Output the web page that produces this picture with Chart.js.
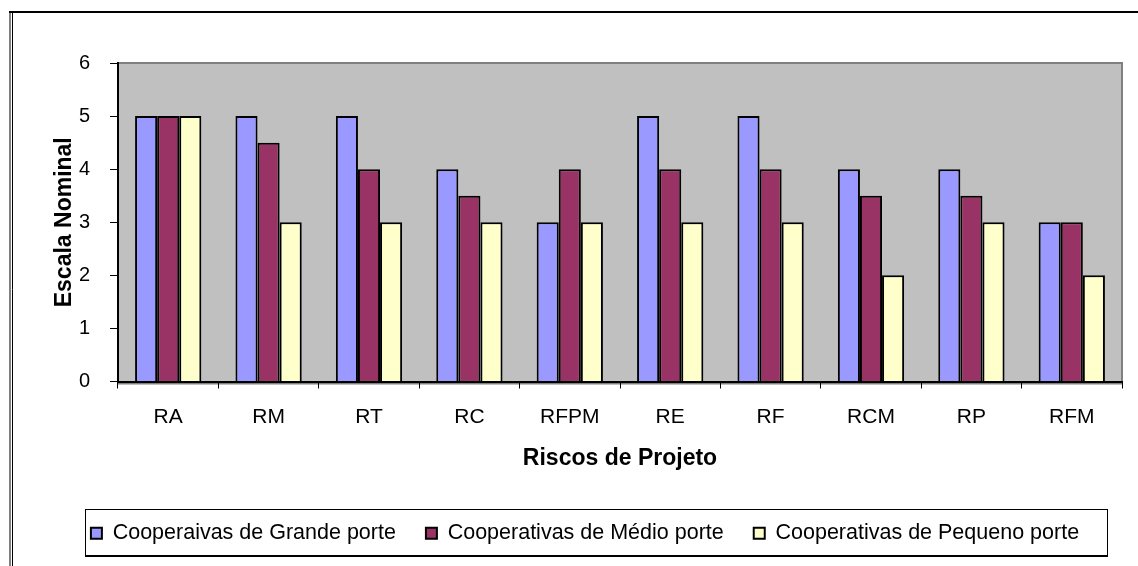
<!DOCTYPE html>
<html lang="pt">
<head>
    <meta charset="UTF-8">
    <title>Riscos de Projeto</title>
    <script src="https://cdn.jsdelivr.net/npm/chart.js@4.4.1/dist/chart.umd.min.js"></script>
    <style>
        body {
            margin: 0;
            background: #fff;
        }
        .wrap {
            position: relative;
            width: 1138px;
            height: 566px;
        }
    </style>
</head>
<body>
    <div class="wrap">
        <canvas id="chart"></canvas>
    </div>

    <script>
        // categories and values
        var riscos = ['RA', 'RM', 'RT', 'RC', 'RFPM', 'RE', 'RF', 'RCM', 'RP', 'RFM'];
        var grandePorte = [5, 5, 5, 4, 3, 5, 5, 4, 4, 3];
        var medioPorte = [5, 4.5, 4, 3.5, 4, 4, 4, 3.5, 3.5, 3];
        var pequenoPorte = [5, 3, 3, 3, 3, 3, 3, 2, 3, 2];
        var yTicks = [0, 1, 2, 3, 4, 5, 6];

        var FONT = "'Liberation Sans', Arial, sans-serif";
        Chart.defaults.color = '#000';
        Chart.defaults.font.family = FONT;

        // gray plot background, outer frame and legend box
        var decor = {
            id: 'decor',
            beforeDraw: function (chart) {
                var ctx = chart.ctx, a = chart.chartArea;
                ctx.save();
                ctx.fillStyle = '#fff';
                ctx.fillRect(0, 0, chart.width, chart.height);
                // outer frame (top + double left line)
                ctx.strokeStyle = '#000';
                ctx.lineWidth = 2;
                ctx.beginPath();
                ctx.moveTo(9, 12);
                ctx.lineTo(chart.width, 12);
                ctx.stroke();
                ctx.lineWidth = 1;
                ctx.beginPath();
                ctx.moveTo(10, 12);
                ctx.lineTo(10, chart.height);
                ctx.moveTo(12.5, 13);
                ctx.lineTo(12.5, chart.height);
                ctx.stroke();
                // plot area
                ctx.fillStyle = '#c0c0c0';
                ctx.fillRect(a.left, a.top, a.right - a.left, a.bottom - a.top);
                ctx.strokeStyle = '#808080';
                ctx.lineWidth = 2;
                ctx.beginPath();
                ctx.moveTo(a.left, a.top);
                ctx.lineTo(a.right, a.top);
                ctx.lineTo(a.right, a.bottom + 2);
                ctx.lineTo(a.left, a.bottom + 2);
                ctx.stroke();
                ctx.restore();
            },
            afterDraw: function (chart) {
                var hb = chart.legend.legendHitBoxes;
                if (!hb || !hb.length) return;
                var ctx = chart.ctx;
                var last = hb[hb.length - 1];
                var cy = hb[0].top + hb[0].height / 2;
                var x0 = hb[0].left - 6, x1 = last.left + last.width + 28;
                ctx.save();
                ctx.strokeStyle = '#000';
                ctx.lineWidth = 1;
                ctx.strokeRect(Math.round(x0) + 0.5, Math.round(cy - 24) + 0.5, Math.round(x1 - x0), 46);
                ctx.lineWidth = 2;
                ctx.beginPath();
                ctx.moveTo(Math.round(x0), Math.round(cy - 24) + 47);
                ctx.lineTo(Math.round(x1) + 1, Math.round(cy - 24) + 47);
                ctx.stroke();
                ctx.restore();
            }
        };

        var ctx = document.getElementById('chart').getContext('2d');
        var chart = new Chart(ctx, {
            type: 'bar',
            data: {
                labels: riscos,
                datasets: [{
                    label: 'Cooperaivas de Grande porte',
                    data: grandePorte,
                    backgroundColor: '#9999ff',
                    borderColor: '#000',
                    borderWidth: 2
                }, {
                    label: 'Cooperativas de Médio porte',
                    data: medioPorte,
                    backgroundColor: '#993366',
                    borderColor: '#000',
                    borderWidth: 2
                }, {
                    label: 'Cooperativas de Pequeno porte',
                    data: pequenoPorte,
                    backgroundColor: '#ffffcc',
                    borderColor: '#000',
                    borderWidth: 2
                }]
            },
            options: {
                responsive: true,
                maintainAspectRatio: false,
                animation: false,
                layout: {
                    padding: { left: 48, top: 63, right: 16, bottom: 12 }
                },
                datasets: {
                    bar: {
                        categoryPercentage: 0.66,
                        barPercentage: 1.0
                    }
                },
                plugins: {
                    tooltip: { enabled: false },
                    legend: {
                        position: 'bottom',
                        labels: {
                            boxWidth: 11,
                            boxHeight: 11,
                            padding: 30,
                            font: { size: 21.5 }
                        }
                    }
                },
                scales: {
                    x: {
                        afterFit: function (scale) { scale.height = 111; },
                        grid: {
                            offset: true,
                            drawOnChartArea: false,
                            tickLength: 7,
                            color: '#000'
                        },
                        border: { color: '#000', width: 2 },
                        ticks: {
                            padding: 16,
                            font: { size: 21 }
                        },
                        title: {
                            display: true,
                            text: 'Riscos de Projeto',
                            font: { size: 23, weight: 'bold' },
                            padding: { bottom: 20 }
                        }
                    },
                    y: {
                        min: 0,
                        max: 6,
                        afterFit: function (scale) { scale.width = 70; },
                        afterBuildTicks: function (scale) {
                            scale.ticks = yTicks.map(function (v) { return { value: v }; });
                        },
                        grid: {
                            drawOnChartArea: false,
                            tickLength: 8,
                            color: '#000'
                        },
                        border: { color: '#000', width: 2 },
                        ticks: {
                            padding: 20,
                            font: { size: 20 }
                        },
                        title: {
                            display: true,
                            text: 'Escala Nominal',
                            font: { size: 23, weight: 'bold' },
                            padding: { top: 3 }
                        }
                    }
                }
            },
            plugins: [decor]
        });
    </script>
</body>
</html>
